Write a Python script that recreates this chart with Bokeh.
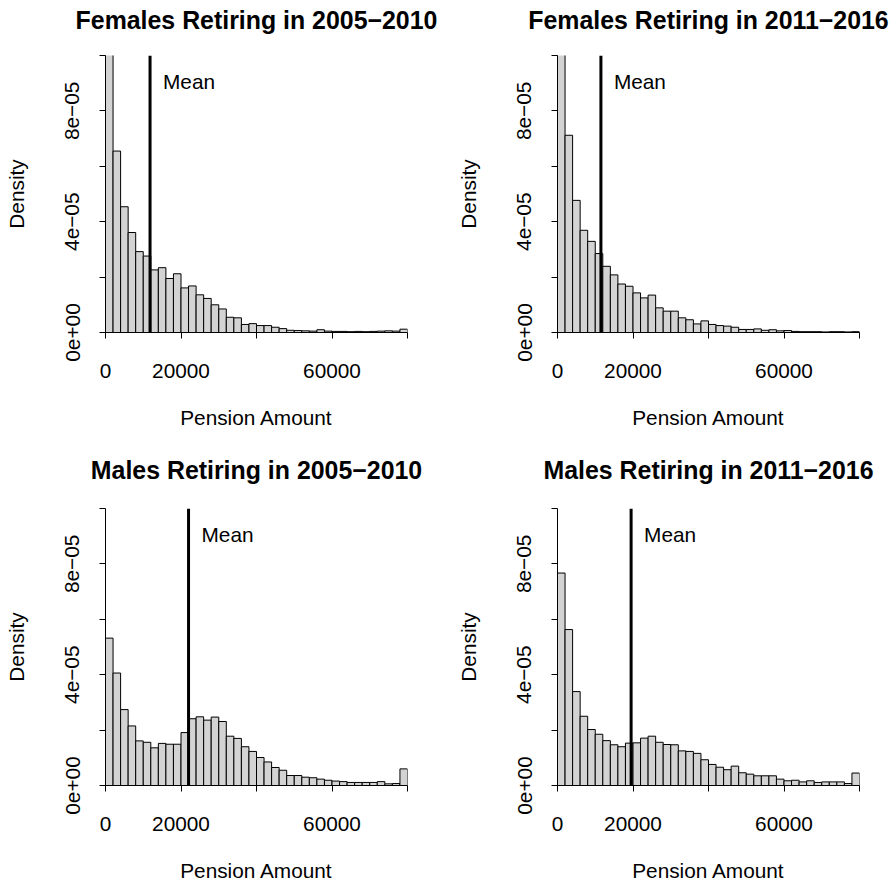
from bokeh.plotting import figure
from bokeh.layouts import column, row
from bokeh.models import Span, Label, FixedTicker, Range1d, LinearAxis
from bokeh.embed import file_html
from bokeh.resources import INLINE

# ---- data -------------------------------------------------------------
bin_edges = list(range(0, 80001, 2000))

titles = [
    "Females Retiring in 2005\u22122010",
    "Females Retiring in 2011\u22122016",
    "Males Retiring in 2005\u22122010",
    "Males Retiring in 2011\u22122016",
]

dens_f_0510 = [11.5e-05, 6.55e-05, 4.54e-05, 3.61e-05, 2.92e-05, 2.76e-05, 2.26e-05, 2.34e-05,
               1.95e-05, 2.12e-05, 1.61e-05, 1.68e-05, 1.36e-05, 1.23e-05, 1.00e-05, 0.85e-05,
               0.55e-05, 0.53e-05, 0.29e-05, 0.32e-05, 0.25e-05, 0.25e-05, 0.19e-05, 0.14e-05,
               0.08e-05, 0.07e-05, 0.06e-05, 0.05e-05, 0.10e-05, 0.05e-05, 0.04e-05, 0.04e-05,
               0.03e-05, 0.04e-05, 0.03e-05, 0.04e-05, 0.05e-05, 0.06e-05, 0.05e-05, 0.12e-05]

dens_f_1116 = [12.5e-05, 7.12e-05, 4.77e-05, 3.69e-05, 3.29e-05, 2.85e-05, 2.39e-05, 2.08e-05,
               1.75e-05, 1.67e-05, 1.43e-05, 1.25e-05, 1.35e-05, 0.89e-05, 0.77e-05, 0.77e-05,
               0.53e-05, 0.46e-05, 0.31e-05, 0.42e-05, 0.29e-05, 0.25e-05, 0.23e-05, 0.19e-05,
               0.11e-05, 0.11e-05, 0.13e-05, 0.08e-05, 0.10e-05, 0.06e-05, 0.07e-05, 0.04e-05,
               0.03e-05, 0.03e-05, 0.03e-05, 0.02e-05, 0.03e-05, 0.03e-05, 0.02e-05, 0.03e-05]

dens_m_0510 = [5.32e-05, 4.06e-05, 2.74e-05, 2.15e-05, 1.61e-05, 1.56e-05, 1.36e-05, 1.52e-05,
               1.49e-05, 1.49e-05, 1.91e-05, 2.41e-05, 2.48e-05, 2.36e-05, 2.47e-05, 2.31e-05,
               1.78e-05, 1.70e-05, 1.40e-05, 1.23e-05, 1.01e-05, 0.85e-05, 0.65e-05, 0.55e-05,
               0.36e-05, 0.36e-05, 0.30e-05, 0.28e-05, 0.23e-05, 0.19e-05, 0.16e-05, 0.14e-05,
               0.11e-05, 0.11e-05, 0.11e-05, 0.11e-05, 0.14e-05, 0.06e-05, 0.07e-05, 0.60e-05]

dens_m_1116 = [7.67e-05, 5.63e-05, 3.39e-05, 2.50e-05, 2.02e-05, 1.85e-05, 1.62e-05, 1.47e-05,
               1.40e-05, 1.53e-05, 1.54e-05, 1.71e-05, 1.78e-05, 1.56e-05, 1.48e-05, 1.47e-05,
               1.25e-05, 1.23e-05, 1.16e-05, 0.93e-05, 0.76e-05, 0.66e-05, 0.57e-05, 0.70e-05,
               0.46e-05, 0.41e-05, 0.35e-05, 0.35e-05, 0.35e-05, 0.23e-05, 0.17e-05, 0.19e-05,
               0.13e-05, 0.17e-05, 0.11e-05, 0.13e-05, 0.13e-05, 0.13e-05, 0.07e-05, 0.45e-05]

means = [11800, 11500, 22000, 19500]

x_lim = (0, 80000)
y_lim = (0, 1e-04)
x_major = [0, 20000, 60000]
x_minor = [40000, 80000]
x_labels = {0: "0", 20000: "20000", 60000: "60000"}
y_major = [0, 4e-05, 8e-05]
y_minor = [2e-05, 6e-05, 1e-04]
y_labels = {0: "0e+00", 4e-05: "4e\u221205", 8e-05: "8e\u221205"}

FONT = "Liberation Sans"
BASE = "20.8px"
TSIZE = "24.9px"


def make_panel(title, dens, mean, top_row, left_col):
    w = 448
    h = 448 if top_row else 436
    p = figure(width=w, height=h,
               x_range=Range1d(*x_lim), y_range=Range1d(*y_lim),
               output_backend="svg", toolbar_location=None,
               min_border_left=105 if left_col else 109,
               min_border_right=41 if left_col else 37,
               min_border_top=55 if top_row else 60,
               min_border_bottom=116 if top_row else 99)
    p.outline_line_color = None
    p.xgrid.grid_line_color = None
    p.ygrid.grid_line_color = None
    p.background_fill_color = "white"
    p.border_fill_color = "white"

    bottom_axis = p.below[0]
    left_axis = p.left[0]

    p.quad(left=bin_edges[:-1], right=bin_edges[1:], bottom=0, top=dens,
           fill_color="#d3d3d3", line_color="black", line_width=1)

    p.add_layout(Span(location=mean, dimension="height",
                      line_color="black", line_width=3))
    p.add_layout(Label(x=mean, y=9e-05, text="Mean", x_offset=13, y_offset=2,
                       text_align="left", text_baseline="middle",
                       text_font=FONT, text_font_size=BASE, text_color="black"))

    # panel title: label of a bare axis above the plotting region
    top_axis = LinearAxis(ticker=FixedTicker(ticks=[]), axis_label=title,
                          axis_line_color=None, major_tick_line_color=None,
                          minor_tick_line_color=None,
                          major_tick_in=0, major_tick_out=0,
                          minor_tick_in=0, minor_tick_out=0,
                          major_label_standoff=0,
                          major_label_text_font_size="0px",
                          axis_label_standoff=22 if top_row else 25,
                          axis_label_text_font=FONT,
                          axis_label_text_font_size=TSIZE,
                          axis_label_text_font_style="bold",
                          axis_label_text_color="black")
    p.add_layout(top_axis, "above")

    for ax in (bottom_axis, left_axis):
        ax.axis_line_color = "black"
        ax.axis_line_width = 1
        ax.major_tick_line_color = "black"
        ax.minor_tick_line_color = "black"
        ax.major_tick_in = 0
        ax.major_tick_out = 6
        ax.minor_tick_in = 0
        ax.minor_tick_out = 6
        ax.major_label_text_font = FONT
        ax.major_label_text_font_size = BASE
        ax.major_label_text_color = "black"
        ax.axis_label_text_font = FONT
        ax.axis_label_text_font_size = BASE
        ax.axis_label_text_font_style = "normal"
        ax.axis_label_text_color = "black"

    bottom_axis.ticker = FixedTicker(ticks=x_major, minor_ticks=x_minor)
    bottom_axis.major_label_overrides = x_labels
    bottom_axis.axis_label = "Pension Amount"
    bottom_axis.major_label_standoff = 25
    bottom_axis.axis_label_standoff = 25

    left_axis.ticker = FixedTicker(ticks=y_major, minor_ticks=y_minor)
    left_axis.major_label_overrides = y_labels
    left_axis.major_label_orientation = "vertical"
    left_axis.axis_label = "Density"
    left_axis.major_label_standoff = 20
    left_axis.axis_label_standoff = 35
    return p


p1 = make_panel(titles[0], dens_f_0510, means[0], True, True)
p2 = make_panel(titles[1], dens_f_1116, means[1], True, False)
p3 = make_panel(titles[2], dens_m_0510, means[2], False, True)
p4 = make_panel(titles[3], dens_m_1116, means[3], False, False)

layout = column(row(p1, p2), row(p3, p4))

open("out.html", "w").write(file_html(layout, INLINE))
